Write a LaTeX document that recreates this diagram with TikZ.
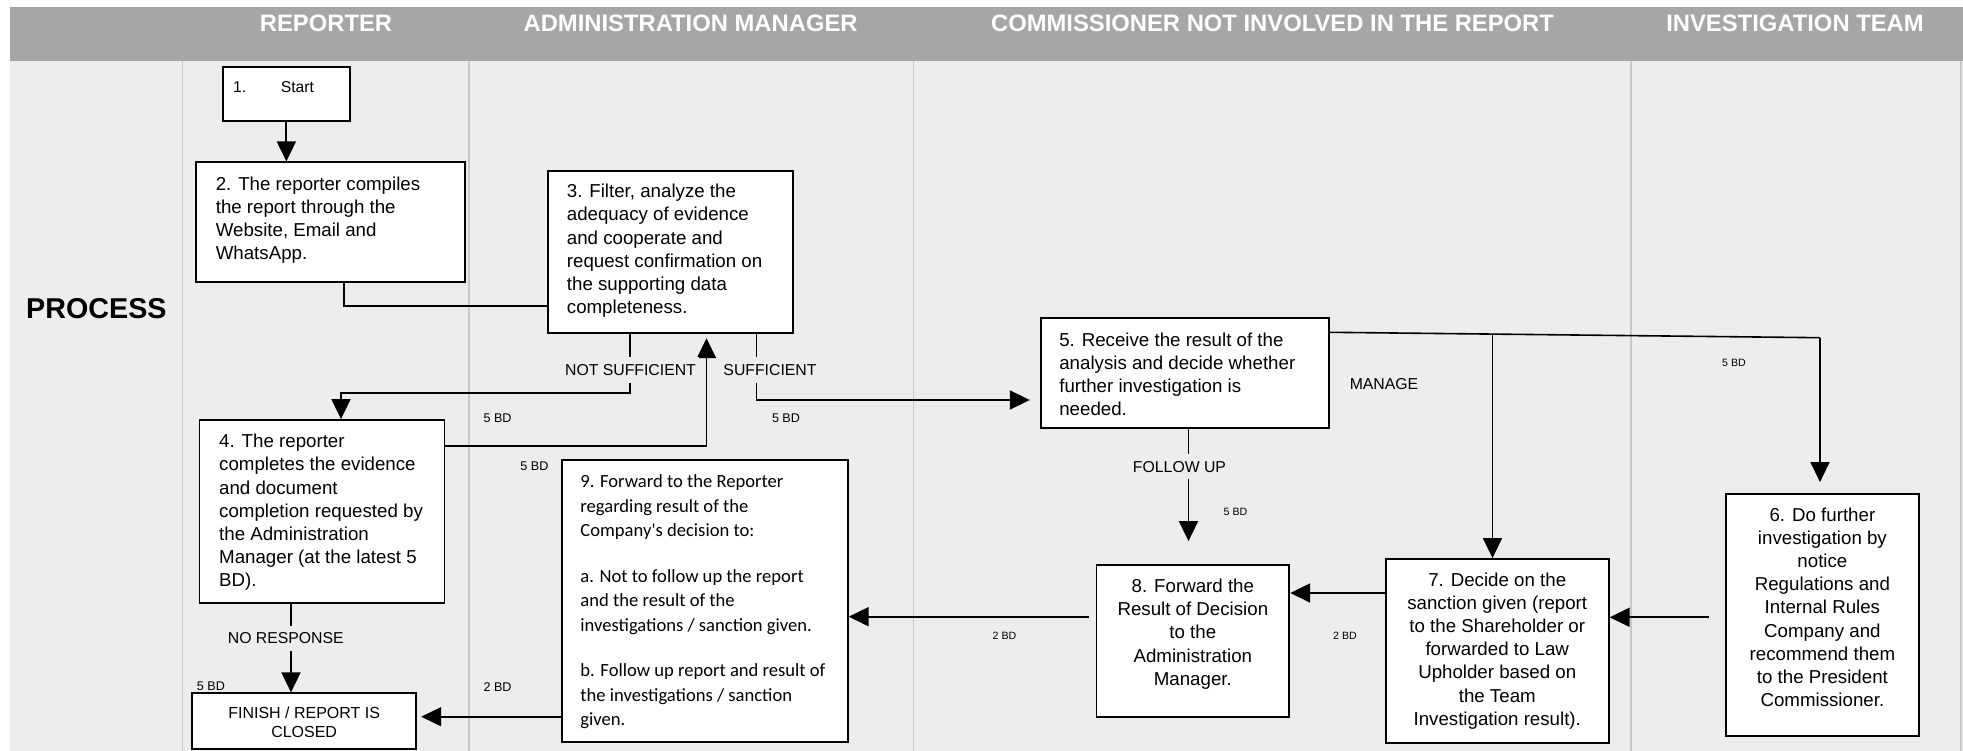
\documentclass[tikz,border=0pt]{standalone}
\usepackage{fontspec}
\setmainfont{Liberation Sans}
\newfontfamily\calibrifont{Carlito}
\usetikzlibrary{arrows.meta,fit}
\definecolor{hdrgrey}{HTML}{A6A6A6}
\definecolor{lanebg}{HTML}{EDEDED}
\definecolor{laneline}{HTML}{C8C8C8}

\tikzset{
  box/.style={draw=black, line width=1.8pt, fill=white, inner sep=0pt},
  txt/.style={inner sep=0pt, font=\fontsize{18.7}{23.2}\selectfont},
  note/.style={inner sep=0pt, font=\fontsize{15.8}{19}\selectfont},
  cover/.style={note, fill=lanebg, inner xsep=3pt, minimum height=25pt},
  bdmid/.style={inner sep=0pt, font=\fontsize{12.6}{15}\selectfont},
  bdsmall/.style={inner sep=0pt, font=\fontsize{10.6}{13}\selectfont},
  lanehead/.style={inner sep=0pt, text=white, font=\bfseries\fontsize{23.8}{28}\selectfont},
  flow/.style={line width=1.8pt, draw=black},
  arr/.style={flow, -{Triangle[length=20pt,width=19pt]}},
}

\begin{document}
\begin{tikzpicture}[x=1pt,y=-1pt]
\useasboundingbox (0,0) rectangle (1963,751);

% swimlane background, header band and lane separators
\fill[lanebg] (10,61) rectangle (1963,751);
\fill[hdrgrey] (10,7) rectangle (1963,61);
\foreach \lx in {182.5,469,913.5,1631,1961}
  \draw[laneline, line width=1.5pt] (\lx,61) -- (\lx,751);

\node[lanehead] (hrep) at (326,23.3) {REPORTER};
\node[lanehead] (hadm) at (690.6,23.3) {ADMINISTRATION MANAGER};
\node[lanehead] (hcom) at (1272.5,23.3) {COMMISSIONER NOT INVOLVED IN THE REPORT};
\node[lanehead] (hinv) at (1795,23.3) {INVESTIGATION TEAM};
\node[inner sep=0pt, font=\bfseries\fontsize{28.7}{34}\selectfont] (proc) at (96.4,309) {PROCESS};

% process boxes
\node[box, fit={(222.7,67.3) (350,121)}] (b1) {};
\node[box, fit={(195.8,162.3) (465,281.7)}] (b2) {};
\node[box, fit={(548,171) (792.8,332.7)}] (b3) {};
\node[box, fit={(199.5,420) (444.5,603.3)}] (b4) {};
\node[box, fit={(1040.7,318.3) (1328.9,428.3)}] (b5) {};
\node[box, fit={(1725.8,494) (1919,736)}] (b6) {};
\node[box, fit={(1385.8,559) (1608.7,743)}] (b7) {};
\node[box, fit={(1096.4,565) (1289.3,716.7)}] (b8) {};
\node[box, fit={(561.6,460) (847.8,741.7)}] (b9) {};
\node[box, fit={(192,693.3) (416.3,749)}] (fin) {};

% box texts
\node[inner sep=0pt, anchor=north west, align=left, font=\fontsize{15.7}{18.8}\selectfont] (t1)
  at ([xshift=11.2pt,yshift=-12.4pt]b1.north west) {\strut\makebox[47.7pt][l]{1.}Start};
\node[txt, anchor=north west, align=left] (t2) at ([xshift=20.7pt,yshift=-12.2pt]b2.north west)
  {\strut 2. The reporter compiles\\the report through the\\Website, Email and\\WhatsApp.};
\node[txt, anchor=north west, align=left] (t3) at ([xshift=19.6pt,yshift=-11.2pt]b3.north west)
  {\strut 3. Filter, analyze the\\adequacy of evidence\\and cooperate and\\request confirmation on\\the supporting data\\completeness.};
\node[txt, anchor=north west, align=left] (t4) at ([xshift=20.4pt,yshift=-12.2pt]b4.north west)
  {\strut 4. The reporter\\completes the evidence\\and document\\completion requested by\\the Administration\\Manager (at the latest 5\\BD).};
\node[txt, anchor=north west, align=left] (t5) at ([xshift=19.3pt,yshift=-12.2pt]b5.north west)
  {\strut 5. Receive the result of the\\analysis and decide whether\\further investigation is\\needed.};
\node[txt, anchor=north, align=center] (t6) at ([yshift=-11.5pt]b6.north)
  {\strut 6. Do further\\investigation by\\notice\\Regulations and\\Internal Rules\\Company and\\recommend them\\to the President\\Commissioner.};
\node[txt, anchor=north, align=center] (t7) at ([yshift=-11.5pt]b7.north)
  {\strut 7. Decide on the\\sanction given (report\\to the Shareholder or\\forwarded to Law\\Upholder based on\\the Team\\Investigation result).};
\node[txt, anchor=north, align=center] (t8) at ([yshift=-12pt]b8.north)
  {\strut 8. Forward the\\Result of Decision\\to the\\Administration\\Manager.};
\node[inner sep=0pt, anchor=north west, align=left, font=\calibrifont\fontsize{18.6}{24.5}\selectfont] (t9)
  at ([xshift=19.5pt,yshift=-11.5pt]b9.north west)
  {\strut 9. Forward to the Reporter\\regarding result of the\\Company's decision to:\\[21pt]a. Not to follow up the report\\and the result of the\\investigations / sanction given.\\[21pt]b. Follow up report and result of\\the investigations / sanction\\given.};
\node[inner sep=0pt, anchor=north, align=center, font=\fontsize{16}{19.4}\selectfont] (tfin)
  at ([yshift=-12.1pt]fin.north) {\strut FINISH / REPORT IS\\CLOSED};

% bend points of the connectors
\coordinate (k23) at (343.8,306);
\coordinate (kns) at (630,393.3);
\coordinate (k4in) at (341,393.3);
\coordinate (ksu) at (756.5,400);
\coordinate (k43) at (706.5,446);
\coordinate (kfu) at (1188.5,0);
\coordinate (km0) at (1328.9,332.3);
\coordinate (km6) at (1820,337.7);
\coordinate (km7) at (1492.5,333.6);
\coordinate (k67) at (0,617.3);
\coordinate (k78) at (0,593);
\coordinate (k89) at (0,616.7);
\coordinate (k9f) at (0,716.7);
\coordinate (k4f) at (291,0);

% connectors
\draw[arr] (b1.south) -- (b1.south |- b2.north);
\draw[flow] (b2.south -| k23) |- (b3.west |- k23);
\draw[arr] (b3.south -| kns) -- (kns) -- (k4in) -- (b4.north -| k4in);
\draw[arr, shorten >=10pt] (b3.south -| ksu) -- (ksu) -- (b5.west |- ksu);
\draw[arr, shorten >=4.6pt] (b4.east |- k43) -- (k43) -- (b3.south -| k43);
\draw[arr, shorten >=23pt] (b5.south -| kfu) -- (b8.north -| kfu);
\draw[flow, line width=1.6pt] (b5.east |- km0) -- (km6);
\draw[arr, line width=1.6pt] (km7) -- (b7.north -| km7);
\draw[arr, line width=1.6pt, shorten >=11pt] (km6) -- (b6.north -| km6);
\draw[arr, shorten <=15.8pt] (b6.west |- k67) -- (b7.east |- k67);
\draw[arr] (b7.west |- k78) -- (b8.east |- k78);
\draw[arr, shorten <=7pt] (b8.west |- k89) -- (b9.east |- k89);
\draw[arr, shorten >=4pt] (b9.west |- k9f) -- (fin.east |- k9f);
\draw[arr] (b4.south -| k4f) -- (fin.north -| k4f);

% connector labels
\node[cover] (lns) at (630.5,370) {NOT SUFFICIENT};
\node[cover] (lsu) at (770,370) {SUFFICIENT};
\node[cover] (lfu) at (1179.5,466.7) {FOLLOW UP};
\node[cover] (lnr) at (285.8,638.3) {NO RESPONSE};
\node[note] (lma) at (1384,384.3) {MANAGE};

\node[bdmid] (d1) at (497.6,418.3) {5 BD};
\node[bdmid] (d2) at (534.5,466.7) {5 BD};
\node[bdmid] (d3) at (786,418.3) {5 BD};
\node[bdmid] (d4) at (211,686.7) {5 BD};
\node[bdmid] (d5) at (497.6,686.7) {2 BD};
\node[bdsmall] (d6) at (1235.5,512.3) {5 BD};
\node[bdsmall] (d7) at (1734,363.3) {5 BD};
\node[bdsmall] (d8) at (1004.5,635.7) {2 BD};
\node[bdsmall] (d9) at (1345,635.7) {2 BD};
\end{tikzpicture}
\end{document}
